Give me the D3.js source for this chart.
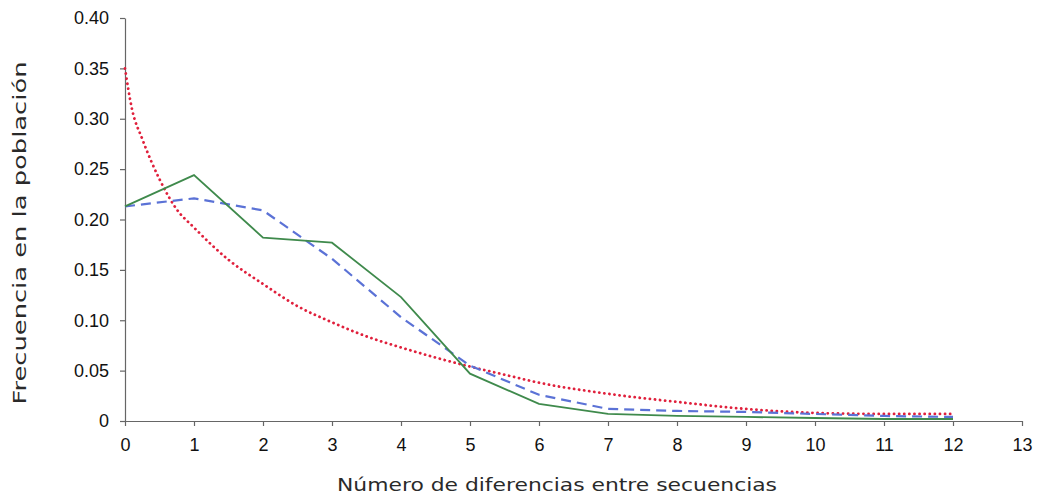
<!DOCTYPE html>
<meta charset="utf-8">
<html>
<head>
<script src="https://d3js.org/d3.v7.min.js"></script>
<style>
  body { margin: 0; background: #fff; }
  .title { font-family: "DejaVu Sans", sans-serif; font-size: 18px; fill: #2a2a2a; }
</style>
</head>
<body>
<div id="plotArea"></div>
<script>
  // values
  const xTicks = [0,1,2,3,4,5,6,7,8,9,10,11,12,13];
  const yTicks = [0,0.05,0.10,0.15,0.20,0.25,0.30,0.35,0.40];
  const categories = [0,1,2,3,4,5,6,7,8,9,10,11,12];
  const observed = [0.213,0.244,0.182,0.177,0.123,0.047,0.017,0.007,0.005,0.004,0.003,0.002,0.002];
  const simulated = [0.213,0.221,0.209,0.161,0.103,0.055,0.026,0.012,0.010,0.009,0.007,0.005,0.004];
  const curveX = [0,0.1,0.25,0.5,0.75,1,1.5,2,2.5,3,3.5,4,4.5,5,5.5,6,7,8,9,10,11,12];
  const curveY = [0.350,0.310,0.280,0.240,0.210,0.192,0.160,0.136,0.114,0.098,0.084,0.073,0.063,0.054,0.046,0.038,0.027,0.019,0.012,0.008,0.007,0.007];

  const W = 1037, H = 504;
  const x0 = 125, x1 = 1022, y0 = 421, y1 = 18;

  const svg = d3.select("#plotArea").append("svg")
      .attr("width", W).attr("height", H);

  const xScale = d3.scaleLinear().domain([0,13]).range([x0,x1]);
  const yScale = d3.scaleLinear().domain([0,0.4]).range([y0,y1]);

  // axes
  const xAxis = svg.append("g").attr("transform", "translate(0," + y0 + ")")
      .call(d3.axisBottom(xScale).tickValues(xTicks).tickFormat(d3.format("d")).tickSize(5).tickPadding(12).tickSizeOuter(0));
  const yAxis = svg.append("g").attr("transform", "translate(" + x0 + ",0)")
      .call(d3.axisLeft(yScale).tickValues(yTicks)
        .tickFormat(function(d){ return d === 0 ? "0" : d3.format(".2f")(d); })
        .tickSize(5).tickPadding(11).tickSizeOuter(0));
  svg.selectAll(".domain, .tick line").attr("stroke", "#666").attr("stroke-width", 1.2);
  svg.selectAll(".tick text")
    .attr("font-family", "Liberation Sans, Arial, sans-serif")
    .attr("font-size", "18px").attr("fill", "#111");

  // series
  const smooth = d3.line().curve(d3.curveMonotoneX)
      .x(function(d){ return xScale(d[0]); }).y(function(d){ return yScale(d[1]); });
  const straight = d3.line().x(function(d){ return xScale(d[0]); }).y(function(d){ return yScale(d[1]); });

  svg.append("path")
    .datum(d3.zip(curveX, curveY))
    .attr("d", smooth)
    .attr("fill", "none").attr("stroke", "#e0203c")
    .attr("stroke-width", 2.8).attr("stroke-linecap", "round")
    .attr("stroke-dasharray", "0.1 5");

  svg.append("path")
    .datum(d3.zip(categories, simulated))
    .attr("d", straight)
    .attr("fill", "none").attr("stroke", "#5b72d6")
    .attr("stroke-width", 2.2).attr("stroke-dasharray", "10 6");

  svg.append("path")
    .datum(d3.zip(categories, observed))
    .attr("d", straight)
    .attr("fill", "none").attr("stroke", "#3f8a4c")
    .attr("stroke-width", 1.8);

  // titles
  svg.append("text").attr("class", "title")
    .attr("x", 557).attr("y", 491)
    .attr("text-anchor", "middle")
    .attr("textLength", 440).attr("lengthAdjust", "spacingAndGlyphs")
    .text("Número de diferencias entre secuencias");

  svg.append("text").attr("class", "title")
    .attr("transform", "translate(26,233) rotate(-90)")
    .attr("text-anchor", "middle")
    .attr("textLength", 343).attr("lengthAdjust", "spacingAndGlyphs")
    .text("Frecuencia en la población");
</script>
</body>
</html>
